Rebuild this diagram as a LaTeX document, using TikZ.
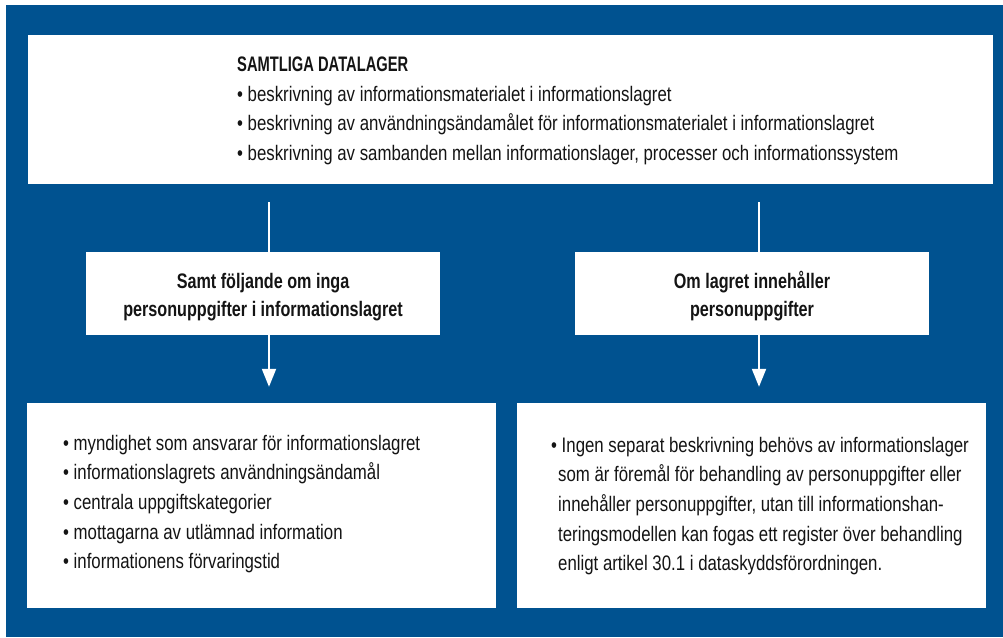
\documentclass[tikz,border=0pt]{standalone}
\usepackage{fontspec}
\setmainfont{Liberation Sans}[FakeStretch=0.8, BoldFeatures={FakeStretch=0.77}]
\usetikzlibrary{arrows.meta,positioning}
\definecolor{panelblue}{RGB}{0,82,144}
\definecolor{ink}{RGB}{20,20,20}

\begin{document}
\begin{tikzpicture}[x=1pt, y=-1pt,
    box/.style={fill=white, inner sep=0pt},
    midbox/.style={box, minimum width=354pt, minimum height=83pt,
      text=ink, align=center, font=\fontsize{21}{28}\selectfont\bfseries},
    txt/.style={text=ink, align=left, inner sep=0pt,
      font=\fontsize{21}{29.6}\selectfont},
    flow/.style={draw=white, line width=2pt}]
  \useasboundingbox (0,0) rectangle (1003,637);
  \fill [panelblue] (6,5) rectangle (1003,637);

  % boxes
  \node [box, minimum width=965pt, minimum height=149pt] (all) at (510.5,109.5) {};
  \node [midbox] (midL) at (263,293.5) {\rule{0pt}{23pt}Samt följande om inga\\personuppgifter i informationslagret};
  \node [midbox] (midR) at (752,293.5) {\rule{0pt}{23pt}Om lagret innehåller\\personuppgifter};
  \node [box, minimum width=469pt, minimum height=205pt] (botL) at (261.5,505.5) {};
  \node [box, minimum width=469pt, minimum height=205pt] (botR) [right=21pt of botL] {};

  % texts
  \node [txt, anchor=west] (allText) at (237,111)
    {\scalebox{0.91}[1]{\textbf{SAMTLIGA DATALAGER}}\\
     • beskrivning av informationsmaterialet i informationslagret\\
     • beskrivning av användningsändamålet för informationsmaterialet i informationslagret\\
     • beskrivning av sambanden mellan informationslager, processer och informationssystem};
  \node [txt, anchor=west] (botLText) at (63,504)
    {• myndighet som ansvarar för informationslagret\\
     • informationslagrets användningsändamål\\
     • centrala uppgiftskategorier\\
     • mottagarna av utlämnad information\\
     • informationens förvaringstid};
  \node [txt, anchor=west] (botRText) at (551,506)
    {• Ingen separat beskrivning behövs av informationslager\\
     \hspace*{7pt}som är föremål för behandling av personuppgifter eller\\
     \hspace*{7pt}innehåller personuppgifter, utan till informationshan-\\
     \hspace*{7pt}teringsmodellen kan fogas ett register över behandling\\
     \hspace*{7pt}enligt artikel 30.1 i dataskyddsförordningen.};

  % arrows
  \coordinate (l0) at (269,202);
  \coordinate (r0) at (759,202);
  \draw [flow] (l0) -- (l0 |- midL.north);
  \draw [flow] (r0) -- (r0 |- midR.north);
  \draw [flow, -{Triangle[width=14pt,length=18pt]}] (l0 |- midL.south) -- ([yshift=16pt] l0 |- botL.north);
  \draw [flow, -{Triangle[width=14pt,length=18pt]}] (r0 |- midR.south) -- ([yshift=16pt] r0 |- botR.north);
\end{tikzpicture}
\end{document}
